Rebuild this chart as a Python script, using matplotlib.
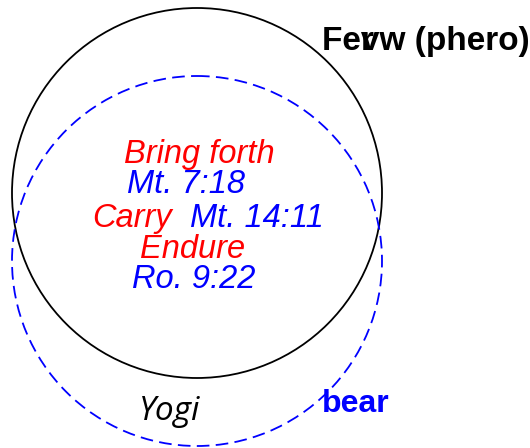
import matplotlib
matplotlib.use("Agg")
import matplotlib.pyplot as plt
from matplotlib.patches import Circle

# circle sets: centre x, centre y, radius (pixel-space data units)
set_names = ["Yogi", "bear"]
centers_x = [197, 197]
centers_y = [193, 261]
radii = [185, 185]
set_colors = ["black", "blue"]
set_styles = ["-", (0, (7, 3.5))]

# inner labels: text, colour, centre x, baseline y
label_texts = ["Bring forth", "Mt. 7:18", "Carry", "Mt. 14:11", "Endure", "Ro. 9:22"]
label_colors = ["red", "blue", "red", "blue", "red", "blue"]
label_x = [199, 186, 132, 257, 192.5, 194]
label_y = [163, 193, 227, 227, 258, 288]

title_text = "Fevw (phero)"

fig = plt.figure(figsize=(5.3, 4.48), dpi=100)
ax = fig.add_axes([0, 0, 1, 1])
ax.set_xlim(0, 530)
ax.set_ylim(448, 0)
ax.set_aspect("equal")
ax.axis("off")

for cx, cy, r, c, ls in zip(centers_x, centers_y, radii, set_colors, set_styles):
    ax.add_patch(Circle((cx, cy), r, fill=False, edgecolor=c, linestyle=ls, linewidth=1.3))

for t, c, x, y in zip(label_texts, label_colors, label_x, label_y):
    ax.text(x, y, t, color=c, fontsize=23.5, fontstyle="italic", family="Liberation Sans",
            ha="center", va="baseline")

# set name labels
ax.text(170, 420, set_names[0], color="black", fontsize=24, fontstyle="italic",
        family="Open Sans", ha="center", va="baseline")
ax.text(322, 412, set_names[1], color="blue", fontsize=23, fontweight="bold",
        family="Liberation Sans", ha="left", va="baseline")

# title with overlapping glyph
t_main = ax.text(322, 50, title_text, color="black", fontsize=24, fontweight="bold",
                 family="Liberation Sans", ha="left", va="baseline")
fig.canvas.draw()
r = fig.canvas.get_renderer()
probe = ax.text(322, 50, "Fe", fontsize=24, fontweight="bold", family="Liberation Sans",
                ha="left", va="baseline", alpha=0)
bb = probe.get_window_extent(renderer=r)
probe.remove()
x_r = ax.transData.inverted().transform((bb.x1, 0))[0]
ax.text(x_r, 50, "r", color="black", fontsize=24, fontweight="bold",
        family="Liberation Sans", ha="left", va="baseline")

fig.savefig("out.png", dpi=100)
